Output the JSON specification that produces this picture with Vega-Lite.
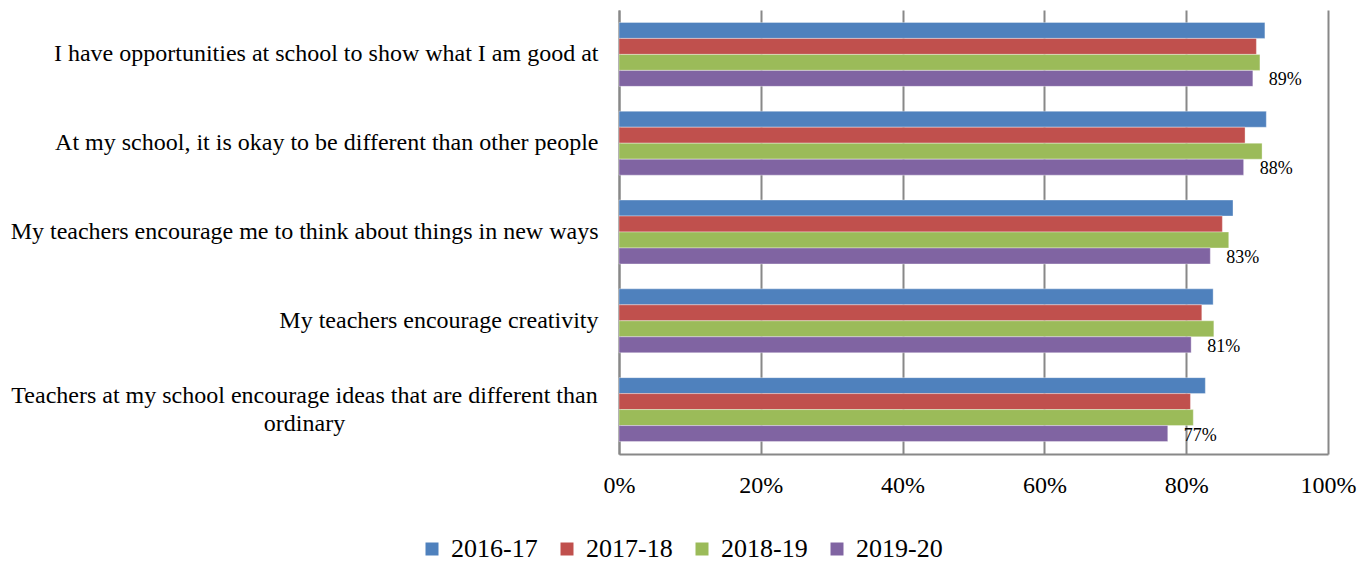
{
  "$schema": "https://vega.github.io/schema/vega-lite/v6.json",
  "autosize": "none",
  "width": 709,
  "height": 444,
  "padding": {"left": 619, "top": 10, "right": 43, "bottom": 108},
  "background": "white",
  "config": {
    "view": {"stroke": null},
    "font": "Liberation Serif"
  },
  "data": {
    "values": [
      {"question": "I have opportunities at school to show what I am good at", "year": "2016-17", "value": 0.911},
      {"question": "I have opportunities at school to show what I am good at", "year": "2017-18", "value": 0.899},
      {"question": "I have opportunities at school to show what I am good at", "year": "2018-19", "value": 0.904},
      {"question": "I have opportunities at school to show what I am good at", "year": "2019-20", "value": 0.894},
      {"question": "At my school, it is okay to be different than other people", "year": "2016-17", "value": 0.913},
      {"question": "At my school, it is okay to be different than other people", "year": "2017-18", "value": 0.883},
      {"question": "At my school, it is okay to be different than other people", "year": "2018-19", "value": 0.907},
      {"question": "At my school, it is okay to be different than other people", "year": "2019-20", "value": 0.881},
      {"question": "My teachers encourage me to think about things in new ways", "year": "2016-17", "value": 0.866},
      {"question": "My teachers encourage me to think about things in new ways", "year": "2017-18", "value": 0.851},
      {"question": "My teachers encourage me to think about things in new ways", "year": "2018-19", "value": 0.860},
      {"question": "My teachers encourage me to think about things in new ways", "year": "2019-20", "value": 0.834},
      {"question": "My teachers encourage creativity", "year": "2016-17", "value": 0.838},
      {"question": "My teachers encourage creativity", "year": "2017-18", "value": 0.822},
      {"question": "My teachers encourage creativity", "year": "2018-19", "value": 0.839},
      {"question": "My teachers encourage creativity", "year": "2019-20", "value": 0.807},
      {"question": "Teachers at my school encourage ideas that are different than ordinary", "year": "2016-17", "value": 0.827},
      {"question": "Teachers at my school encourage ideas that are different than ordinary", "year": "2017-18", "value": 0.806},
      {"question": "Teachers at my school encourage ideas that are different than ordinary", "year": "2018-19", "value": 0.810},
      {"question": "Teachers at my school encourage ideas that are different than ordinary", "year": "2019-20", "value": 0.774}
    ]
  },
  "encoding": {
    "y": {
      "field": "question",
      "type": "nominal",
      "sort": null,
      "scale": {"paddingInner": 0.28, "paddingOuter": 0.14},
      "axis": {
        "title": null,
        "ticks": false,
        "grid": false,
        "domain": true,
        "domainColor": "#888888",
        "domainWidth": 2,
        "labelFont": "Liberation Serif",
        "labelFontSize": 24,
        "labelColor": "#000000",
        "labelLimit": 700,
        "labelLineHeight": 28,
        "labelBaseline": "middle",
        "labelExpr": "datum.value == 'Teachers at my school encourage ideas that are different than ordinary' ? ['Teachers at my school encourage ideas that are different than', 'ordinary'] : datum.value",
        "labelAlign": {"condition": {"test": "datum.value == 'Teachers at my school encourage ideas that are different than ordinary'", "value": "center"}, "value": "right"},
        "labelPadding": {"condition": {"test": "datum.value == 'Teachers at my school encourage ideas that are different than ordinary'", "value": 315}, "value": 21},
        "labelOffset": {"condition": {"test": "datum.value == 'Teachers at my school encourage ideas that are different than ordinary'", "value": -14}, "value": 0}
      }
    },
    "x": {
      "field": "value",
      "type": "quantitative",
      "scale": {"domain": [0, 1], "nice": false},
      "axis": {
        "title": null,
        "values": [0, 0.2, 0.4, 0.6, 0.8, 1],
        "format": ".0%",
        "ticks": false,
        "grid": true,
        "gridColor": "#888888",
        "gridWidth": 2,
        "domain": true,
        "domainColor": "#888888",
        "domainWidth": 2,
        "labelFont": "Liberation Serif",
        "labelFontSize": 24,
        "labelColor": "#000000",
        "labelPadding": 19,
        "labelFlush": false
      }
    },
    "yOffset": {
      "field": "year",
      "type": "nominal",
      "scale": {"paddingInner": 0, "paddingOuter": 0}
    }
  },
  "layer": [
    {
      "mark": {"type": "bar", "stroke": "#ffffff", "strokeOpacity": 0.35, "strokeWidth": 1},
      "encoding": {
        "color": {
          "field": "year",
          "type": "nominal",
          "scale": {"domain": ["2016-17", "2017-18", "2018-19", "2019-20"], "range": ["#4F81BD", "#C0504D", "#9BBB59", "#8064A2"]},
          "legend": {
            "title": null,
            "orient": "none",
            "direction": "horizontal",
            "legendX": -200,
            "legendY": 526,
            "symbolType": "square",
            "symbolSize": 169,
            "symbolStrokeWidth": 0,
            "symbolOpacity": 1,
            "labelFont": "Liberation Serif",
            "labelFontSize": 26,
            "labelColor": "#000000",
            "labelOffset": 6,
            "columnPadding": 16
          }
        }
      }
    },
    {
      "transform": [{"filter": "datum.year == '2019-20'"}],
      "mark": {"type": "text", "align": "left", "baseline": "middle", "dx": 16, "dy": 2, "font": "Liberation Serif", "fontSize": 18, "color": "#000000"},
      "encoding": {
        "text": {"field": "value", "type": "quantitative", "format": ".0%"}
      }
    }
  ]
}
